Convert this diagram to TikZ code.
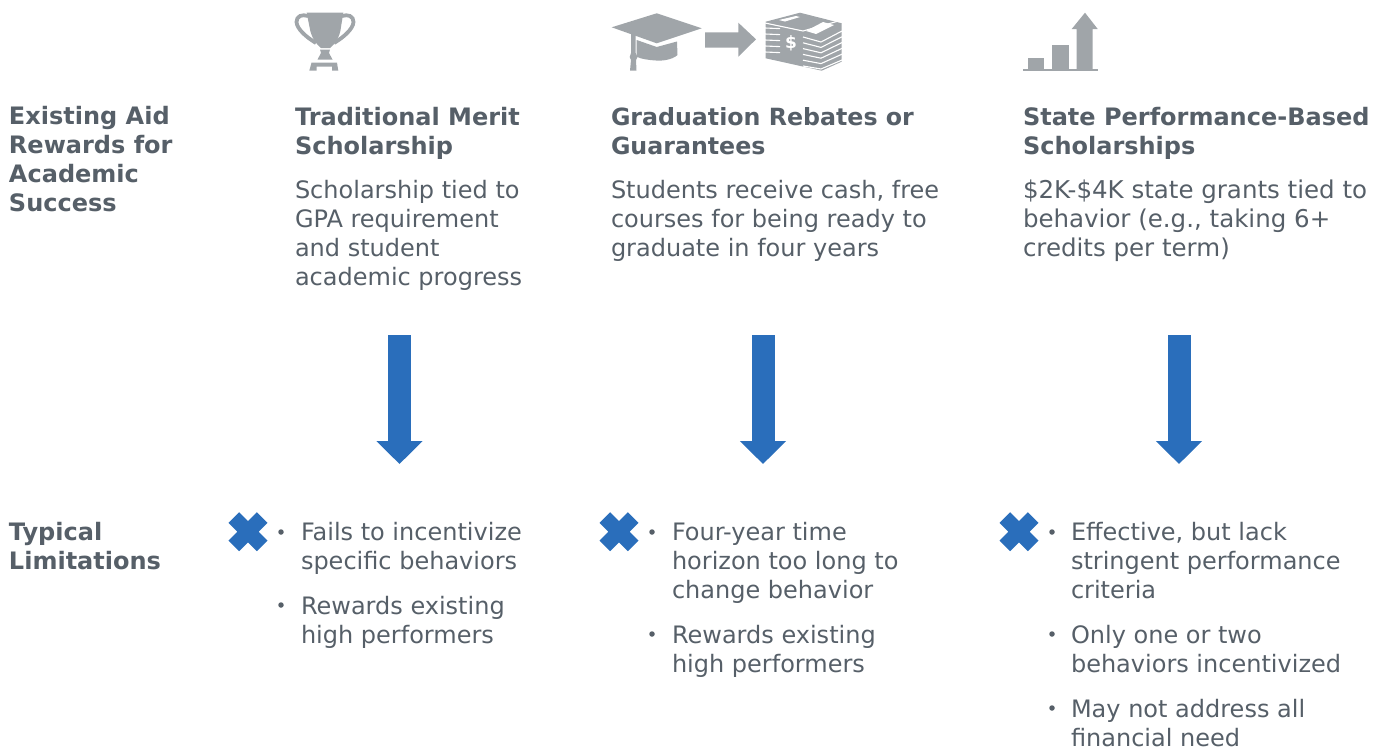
\documentclass[tikz,border=0pt]{standalone}
\usepackage{fontspec}
\setmainfont{DejaVu Sans}
\definecolor{txt}{HTML}{565F68}
\definecolor{blu}{HTML}{2A6EBB}
\definecolor{icn}{HTML}{A0A5A9}
\usetikzlibrary{arrows.meta}
\tikzset{
 body/.style={anchor=base west,inner sep=0pt,outer sep=0pt,align=left,text=txt,font=\fontsize{24}{29}\selectfont},
 head/.style={body,font=\fontsize{24}{29}\selectfont\bfseries},
 bul/.style={anchor=center,circle,fill=txt,inner sep=0pt,minimum size=5.5pt},
 downarrow/.style={draw=blu,line width=23pt,-{Triangle[length=23pt,width=45pt]}},
 cross/.style={draw=blu,line width=15pt},
}
\begin{document}
\begin{tikzpicture}[x=1pt,y=-1pt]
\useasboundingbox (0,0) rectangle (1385,750);
% left labels
\node[head] (t0) at (9,211.5) {Existing Aid\\Rewards for\\Academic\\Success};
\node[head] (t1) at (9,569.5) {Typical\\Limitations};
% column heads
\node[head] (h1) at (295,154) {Traditional Merit\\Scholarship};
\node[head,font=\fontsize{23.7}{29}\selectfont\bfseries] (h2) at (611,154) {Graduation Rebates or\\Guarantees};
\node[head] (h3) at (1023,154) {State Performance-Based\\Scholarships};
\node[body] (d1) at (295,285) {Scholarship tied to\\GPA requirement\\and student\\academic progress};
\node[body] (d2) at (611,256) {Students receive cash, free\\courses for being ready to\\graduate in four years};
\node[body,font=\fontsize{24.5}{29}\selectfont] (d3) at (1023,256) {\$2K-\$4K state grants tied to\\behavior (e.g., taking 6+\\credits per term)};
% arrows
\coordinate (a1s) at (399.5,335); \coordinate (a1e) at (399.5,464);
\coordinate (a2s) at (763,335);   \coordinate (a2e) at (763,464);
\coordinate (a3s) at (1179,335);  \coordinate (a3e) at (1179,464);
\draw[downarrow] (a1s) -- (a1e);
\draw[downarrow] (a2s) -- (a2e);
\draw[downarrow] (a3s) -- (a3e);
% crosses
\draw[cross] (233.8,517.5) -- (262.2,545.9) (233.8,545.9) -- (262.2,517.5);
\draw[cross] (604.8,517.5) -- (633.2,545.9) (604.8,545.9) -- (633.2,517.5);
\draw[cross] (1004.8,517.5) -- (1033.2,545.9) (1004.8,545.9) -- (1033.2,517.5);
% limitations
\node[body] (l11) at (301,569.5) {Fails to incentivize\\specific behaviors};
\node[body] (l12) at (301,643) {Rewards existing\\high performers};
\node[body] (l21) at (672,598.5) {Four-year time\\horizon too long to\\change behavior};
\node[body] (l22) at (672,672) {Rewards existing\\high performers};
\node[body] (l31) at (1071,598.5) {Effective, but lack\\stringent performance\\criteria};
\node[body] (l32) at (1071,672) {Only one or two\\behaviors incentivized};
\node[body] (l33) at (1071,746) {May not address all\\financial need};
\node[bul] (b11) at (281,532) {};
\node[bul] (b12) at (281,605) {};
\node[bul] (b21) at (652,532) {};
\node[bul] (b22) at (652,634) {};
\node[bul] (b31) at (1052,532) {};
\node[bul] (b32) at (1052,634) {};
\node[bul] (b33) at (1052,708) {};
% trophy
\fill[icn] (306.7,12.7) -- (343.3,12.7) -- (341,27) .. controls (340,37) and (335,44) .. (330,48) -- (321,48) .. controls (316,44) and (311,37) .. (309.5,27) -- cycle;
\draw[icn,line width=3.8pt,fill=none] (308,16) .. controls (302,14) and (296.5,16) .. (296.5,22) .. controls (297,29) and (306,37) .. (316,43);
\draw[icn,line width=3.8pt,fill=none] (342,16) .. controls (348,14) and (353.5,16) .. (353.5,22) .. controls (353,29) and (344,37) .. (334,43);
\fill[icn] (320,49.5) -- (330,49.5) -- (329,53) -- (332.5,59.5) -- (317.5,59.5) -- (321,53) -- cycle;
\fill[icn] (311.5,62.7) -- (337,62.7) -- (338.3,70.7) -- (332,70.7) -- (332,66.7) -- (316.7,66.7) -- (316.7,70.7) -- (309.3,70.7) -- cycle;
% cap
\fill[icn] (611.7,27.3) -- (656.7,13.3) -- (701.7,28.3) -- (656.7,43.3) -- cycle;
\fill[icn] (636.7,40) -- (656.7,47) -- (677,41.5) -- (677.5,55) .. controls (672,60) and (662,61) .. (656,60.5) .. controls (648,60) and (641,59) .. (636.7,56.7) -- cycle;
\fill[icn] (631,33) -- (635.7,34.5) -- (635.7,53) -- (637.5,57) -- (636,60) -- (636.5,70.7) -- (630,70.7) -- (631,60) -- (629.7,57) -- (631,53) -- cycle;
% arrow
\fill[icn] (705,32.3) -- (738.3,32.3) -- (738.3,22.7) -- (756,39.3) -- (738.3,56.7) -- (738.3,47.7) -- (705,47.7) -- cycle;
% money
\fill[icn] (765.7,21.7) -- (800,12.7) -- (841.7,23.3) -- (841.7,61.7) -- (821.7,70.7) -- (765.7,58.3) -- cycle;
\foreach \y in {28,34,40,46,52}{\draw[white,line width=1.1pt] (765,\y) -- (780,\y+0.6);}
\foreach \i in {0,1,2,3,4,5}{\draw[white,line width=1.1pt] (803,37+\i*5.8) -- (821,42+\i*5.4) -- (842,31+\i*5.8);}
\draw[white,line width=1.1pt] (765,23) -- (803,31) -- (842,20);
\fill[white] (779,20) -- (796,16) -- (800,17) -- (785,21.5) -- cycle;
\fill[white] (806,31) -- (823,22) -- (834,25) -- (816,34) -- cycle;
\node[anchor=center,inner sep=0pt,text=white,font=\fontsize{17}{17}\selectfont\bfseries] (dollar) at (791,43) {\$};
% graph
\fill[icn] (1023.3,69) -- (1097.7,69) -- (1097.7,71) -- (1023.3,71) -- cycle;
\fill[icn] (1027.7,58.3) rectangle (1044.3,69);
\fill[icn] (1052.3,45) rectangle (1068.7,69);
\fill[icn] (1076.7,69) -- (1076.7,29) -- (1071.7,29) -- (1085,12.7) -- (1097.7,29) -- (1092.7,29) -- (1092.7,69) -- cycle;
\end{tikzpicture}
\end{document}
